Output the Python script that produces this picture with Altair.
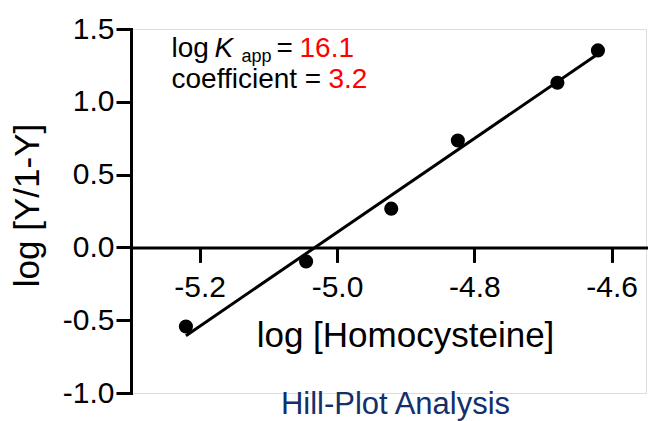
import altair as alt
import pandas as pd

# ---- data ----
log_conc = [-5.220, -5.045, -4.921, -4.824, -4.679, -4.620]
log_ratio = [-0.543, -0.096, 0.266, 0.734, 1.131, 1.353]

x_ticks = [-5.2, -5.0, -4.8, -4.6]
y_ticks = [-1.0, -0.5, 0.0, 0.5, 1.0, 1.5]
x_domain = [-5.3, -4.55]
y_domain = [-1.0, 1.5]

x_title = "log [Homocysteine]"
y_title = "log [Y/1-Y]"
chart_title = "Hill-Plot Analysis"

ann_line1 = ["log", "K", "app", "=", "16.1"]
ann_line2 = ["coefficient =", "3.2"]
ann_x = -5.241
ann_y = [1.3056, 1.0927]

# ---- layout ----
W, H = 515, 364
FONT = "Liberation Sans, Arial, Helvetica, sans-serif"
x_offset = -H * (0 - y_domain[0]) / (y_domain[1] - y_domain[0])

label_expr = "(datum.value < 0 ? '-' : '') + format(abs(datum.value), '.1f')"

common_axis = dict(
    grid=False, labelExpr=label_expr, labelFont=FONT, labelFontSize=30,
    labelColor="black", tickSize=15, tickWidth=3, tickColor="black",
    domainWidth=3, domainColor="black", domainCap="square",
    titleFont=FONT, titleFontSize=35, titleFontWeight="normal",
    titleColor="black", labelFlush=False, labelOverlap=False,
)

x_enc = alt.X("x:Q",
              scale=alt.Scale(domain=x_domain, nice=False, zero=False),
              axis=alt.Axis(values=x_ticks, title=x_title, offset=x_offset,
                            labelBaseline="alphabetic", labelPadding=33.6,
                            titleX=274, titleY=99.3, titleAlign="center",
                            titleBaseline="alphabetic", **common_axis))
y_enc = alt.Y("y:Q",
              scale=alt.Scale(domain=y_domain, nice=False, zero=False),
              axis=alt.Axis(values=y_ticks, title=y_title, labelPadding=2,
                            titleX=-93, titleY=176, titleAlign="center",
                            titleBaseline="alphabetic", titleAngle=270,
                            **common_axis))

pts = pd.DataFrame({"x": log_conc, "y": log_ratio})

fit = alt.Chart(pts).transform_regression("x", "y").mark_line(
    color="black", strokeWidth=3).encode(x=x_enc, y=y_enc)

dots = alt.Chart(pts).mark_circle(size=200, color="black", opacity=1).encode(
    x=x_enc, y=y_enc)

a1 = pd.DataFrame({"x": [ann_x], "y": [ann_y[0]]})
a2 = pd.DataFrame({"x": [ann_x], "y": [ann_y[1]]})

def piece(df, txt, dx, color="black", size=28, style="normal", dy=0):
    return alt.Chart(df).mark_text(
        text=txt, align="left", baseline="alphabetic", dx=dx, dy=dy,
        font=FONT, fontSize=size, fontStyle=style, color=color
    ).encode(x=alt.X("x:Q", scale=alt.Scale(domain=x_domain, nice=False, zero=False)),
             y=alt.Y("y:Q", scale=alt.Scale(domain=y_domain, nice=False, zero=False)))

ann = [
    piece(a1, ann_line1[0], 0),
    piece(a1, ann_line1[1], 43, style="italic"),
    piece(a1, ann_line1[2], 70, size=18, dy=4.4),
    piece(a1, ann_line1[3], 105),
    piece(a1, ann_line1[4], 128, color="#ff0000"),
    piece(a2, ann_line2[0], 0),
    piece(a2, ann_line2[1], 157, color="#ff0000"),
]

chart = alt.layer(fit, dots, *ann).properties(
    width=W, height=H,
    autosize=alt.AutoSizeParams(type="none"),
    padding={"left": 131, "top": 29, "right": 3, "bottom": 28},
    title=alt.TitleParams(chart_title, orient="bottom", anchor="middle",
                          frame="group", font=FONT, fontSize=31,
                          fontWeight="normal", color="#12306b",
                          baseline="alphabetic", offset=6, dx=7),
).configure_view(stroke=None).configure(background="white")

chart.save("out.html", embed_options={"renderer": "svg", "actions": False})
